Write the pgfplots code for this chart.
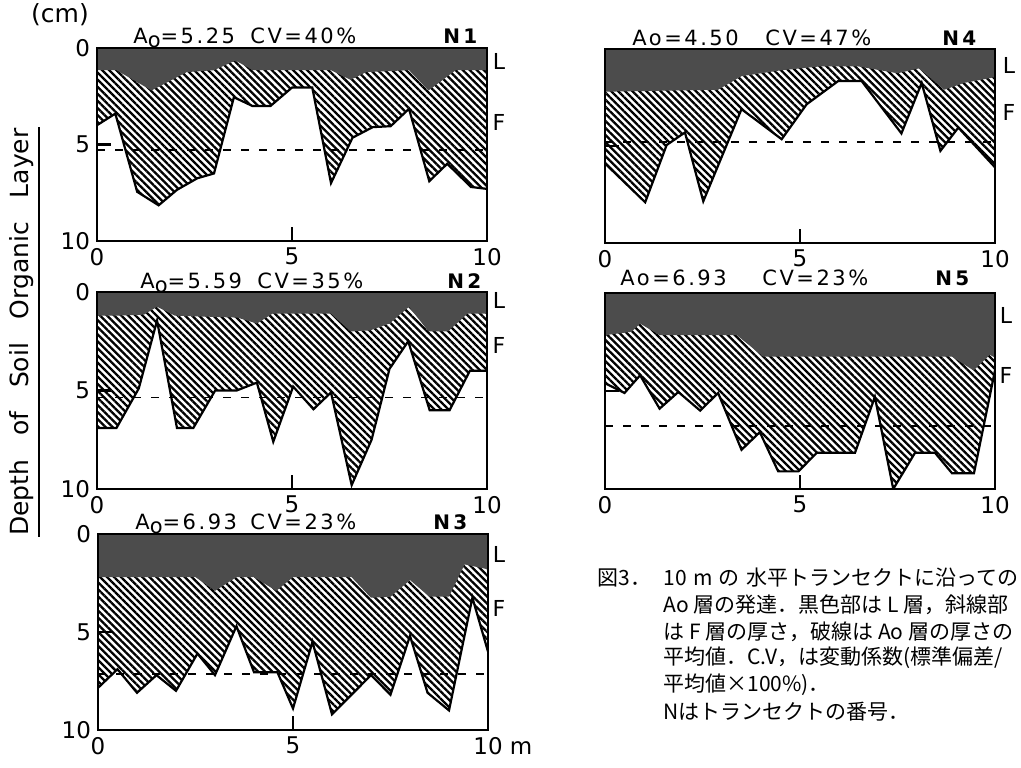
\documentclass[border=0pt]{standalone}
\usepackage{fontspec}
\setmainfont{DejaVu Sans}
\newfontfamily\cjk{Noto Sans CJK JP}
\newfontfamily\ttl[LetterSpace=12]{DejaVu Sans}
\usepackage{pgfplots}
\pgfplotsset{compat=1.18}
\usetikzlibrary{patterns.meta}
\definecolor{Ldark}{gray}{0.30}
\pgfplotsset{
 soil/.style={
  scale only axis, width=195pt, anchor=north west,
  xmin=0,xmax=10,ymin=-10,ymax=0,
  y filter/.expression={-y},
  xtick={0,5,10}, ytick={-10,-5,0}, yticklabels={10,5,0},
  tick pos=left, tick align=inside,
  major tick length=7pt,
  axis line style={line width=1.3pt},
  major tick style={black, line width=1.1pt},
  ticklabel style={font=\fontsize{11.5}{12}\selectfont},
  /pgf/number format/assume math mode=true,
  axis on top,
 },
 hatch/.style={draw=none, pattern={Lines[angle=-45,distance=2.5pt,line width=1.15pt]}},
 dark/.style={draw=none, fill=Ldark},
 fline/.style={black, line width=1.1pt, line join=miter},
 mline/.style={black, line width=0.9pt, dash pattern=on 4pt off 5pt},
}
\begin{document}
\begin{tikzpicture}

% ---------- N1 ----------
\begin{axis}[soil, at={(48.5pt,-24pt)}, height=96.5pt]
\addplot[hatch] coordinates {(0,0) (0,4.0) (0.47,3.4) (1.03,7.45) (1.58,8.15) (2.05,7.35) (2.57,6.75) (3.0,6.5) (3.51,2.55) (3.98,3.0) (4.45,3.0) (5.0,2.05) (5.52,2.05) (6.0,7.0) (6.55,4.65) (7.07,4.1) (7.53,4.05) (8.0,3.15) (8.52,6.9) (8.98,6.0) (9.59,7.2) (10,7.3) (10,0)} -- cycle;
\addplot[dark] coordinates {(0,0) (0,1.15) (0.5,1.15) (1.4,2.2) (2.3,1.25) (3.0,1.15) (3.55,0.65) (4.0,1.15) (6.0,1.15) (6.5,1.65) (6.9,1.25) (8.0,1.15) (8.5,2.2) (9.2,1.15) (10,1.15) (10,0)} -- cycle;
\addplot[fline] coordinates {(0,4.0) (0.47,3.4) (1.03,7.45) (1.58,8.15) (2.05,7.35) (2.57,6.75) (3.0,6.5) (3.51,2.55) (3.98,3.0) (4.45,3.0) (5.0,2.05) (5.52,2.05) (6.0,7.0) (6.55,4.65) (7.07,4.1) (7.53,4.05) (8.0,3.15) (8.52,6.9) (8.98,6.0) (9.59,7.2) (10,7.3)};
\addplot[mline] coordinates {(0,5.3) (10,5.3)};
\end{axis}

% ---------- N2 ----------
\begin{axis}[soil, at={(48.5pt,-146pt)}, height=98.5pt]
\addplot[hatch] coordinates {(0,0) (0,6.9) (0.5,6.9) (1.07,4.9) (1.54,1.45) (2.05,6.9) (2.47,6.9) (3.03,5.0) (3.58,5.0) (4.1,4.6) (4.52,7.6) (5.03,4.8) (5.55,5.95) (6.0,5.1) (6.53,9.8) (7.04,7.5) (7.5,3.9) (7.98,2.5) (8.53,6.0) (9.04,6.0) (9.56,4.0) (10,4.0) (10,0)} -- cycle;
\addplot[dark] coordinates {(0,0) (0,1.2) (0.5,1.2) (1.2,1.15) (1.54,0.75) (2.0,1.2) (3.6,1.3) (4.1,1.6) (4.5,1.1) (6.0,1.1) (6.5,2.0) (7.0,1.95) (7.5,1.6) (8.0,0.75) (8.5,2.0) (9.0,2.0) (9.5,1.1) (10,1.1) (10,0)} -- cycle;
\addplot[fline] coordinates {(0,6.9) (0.5,6.9) (1.07,4.9) (1.54,1.45) (2.05,6.9) (2.47,6.9) (3.03,5.0) (3.58,5.0) (4.1,4.6) (4.52,7.6) (5.03,4.8) (5.55,5.95) (6.0,5.1) (6.53,9.8) (7.04,7.5) (7.5,3.9) (7.98,2.5) (8.53,6.0) (9.04,6.0) (9.56,4.0) (10,4.0)};
\addplot[mline] coordinates {(0,5.35) (10,5.35)};
\end{axis}

% ---------- N3 ----------
\begin{axis}[soil, at={(49pt,-267pt)}, height=98pt, xticklabels={0,5,10\rlap{\ m}}]
\addplot[hatch] coordinates {(0,0) (0,7.85) (0.5,6.9) (1.0,8.1) (1.5,7.2) (2.0,8.0) (2.55,6.1) (3.0,7.2) (3.55,4.7) (4.0,7.05) (4.6,7.05) (5.0,8.9) (5.5,5.5) (6.0,9.2) (6.6,8.0) (7.0,7.2) (7.5,8.2) (8.0,5.2) (8.45,8.1) (9.0,9.0) (9.6,3.25) (10,6.0) (10,0)} -- cycle;
\addplot[dark] coordinates {(0,0) (0,2.2) (2.5,2.2) (3.0,2.9) (3.55,2.2) (4.0,2.2) (4.57,2.9) (5.0,2.2) (6.5,2.2) (7.0,3.25) (7.5,3.2) (8.0,2.35) (8.5,3.2) (9.0,3.2) (9.4,1.55) (10,1.8) (10,0)} -- cycle;
\addplot[fline] coordinates {(0,7.85) (0.5,6.9) (1.0,8.1) (1.5,7.2) (2.0,8.0) (2.55,6.1) (3.0,7.2) (3.55,4.7) (4.0,7.05) (4.6,7.05) (5.0,8.9) (5.5,5.5) (6.0,9.2) (6.6,8.0) (7.0,7.2) (7.5,8.2) (8.0,5.2) (8.45,8.1) (9.0,9.0) (9.6,3.25) (10,6.0)};
\addplot[mline] coordinates {(0,7.15) (10,7.15)};
\end{axis}

% ---------- N4 ----------
\begin{axis}[soil, at={(302.5pt,-24.5pt)}, height=97pt, yticklabels={}]
\addplot[hatch] coordinates {(0,0) (0,5.9) (1.03,7.9) (1.58,4.95) (2.05,4.3) (2.52,7.85) (3.5,3.1) (4.53,4.65) (5.17,2.85) (5.98,1.65) (6.58,1.65) (7.6,4.35) (8.12,1.75) (8.6,5.25) (9.06,4.05) (10,6.1) (10,0)} -- cycle;
\addplot[dark] coordinates {(0,0) (0,2.2) (2.9,2.1) (3.5,1.4) (4.5,1.1) (5.5,0.9) (6.5,0.9) (7.5,1.25) (8.05,1.0) (8.7,2.1) (9.2,1.75) (10,1.45) (10,0)} -- cycle;
\addplot[fline] coordinates {(0,5.9) (1.03,7.9) (1.58,4.95) (2.05,4.3) (2.52,7.85) (3.5,3.1) (4.53,4.65) (5.17,2.85) (5.98,1.65) (6.58,1.65) (7.6,4.35) (8.12,1.75) (8.6,5.25) (9.06,4.05) (10,6.1)};
\addplot[mline] coordinates {(0,4.8) (10,4.8)};
\end{axis}

% ---------- N5 ----------
\begin{axis}[soil, at={(302.5pt,-146.5pt)}, height=98pt, yticklabels={}]
\addplot[hatch] coordinates {(0,0) (0,4.6) (0.5,5.1) (0.9,4.2) (1.4,5.9) (1.88,5.05) (2.44,6.0) (2.9,5.1) (3.5,8.0) (3.97,7.1) (4.44,9.1) (4.96,9.1) (5.43,8.15) (6.41,8.15) (6.92,5.3) (7.39,10.0) (7.95,8.15) (8.46,8.15) (8.9,9.2) (9.46,9.2) (10,3.95) (10,0)} -- cycle;
\addplot[dark] coordinates {(0,0) (0,2.15) (0.68,1.98) (0.9,1.56) (1.4,2.15) (3.38,2.15) (4.06,3.25) (8.9,3.25) (9.45,3.95) (9.87,3.15) (10,3.3) (10,0)} -- cycle;
\addplot[fline] coordinates {(0,4.6) (0.5,5.1) (0.9,4.2) (1.4,5.9) (1.88,5.05) (2.44,6.0) (2.9,5.1) (3.5,8.0) (3.97,7.1) (4.44,9.1) (4.96,9.1) (5.43,8.15) (6.41,8.15) (6.92,5.3) (7.39,10.0) (7.95,8.15) (8.46,8.15) (8.9,9.2) (9.46,9.2) (10,3.95)};
\addplot[mline] coordinates {(0,6.8) (10,6.8)};
\end{axis}

% ---------- texts ----------
\tikzset{tt/.style={inner sep=0, anchor=base west, font=\ttl\fontsize{10.5}{12}\selectfont},
         nn/.style={inner sep=0, anchor=base west, font=\bfseries\fontsize{10}{11}\selectfont},
         lf/.style={inner sep=0, font=\fontsize{11}{12}\selectfont},
         jp/.style={inner sep=0, anchor=west, font=\cjk\fontsize{10.5}{12}\selectfont}}
\node at (30pt,-7.5pt) [inner sep=0, font=\fontsize{12.5}{14}\selectfont] {(cm)};
\node[rotate=90, inner sep=0, font=\fontsize{12.5}{14}\selectfont] at (11pt,-166pt) {Depth\hspace{0.95em}of\hspace{0.95em}Soil\hspace{0.95em}Organic\hspace{0.95em}Layer};
\draw[line width=0.7pt] (19.5pt,-63.5pt) -- (19.5pt,-268.5pt);

\node[tt] at (66.5pt,-21.5pt) {A\raisebox{-0.35ex}{o}=5.25};
\node[tt] at (125pt,-21.5pt) {CV=40\%};
\node[nn] at (221.5pt,-21.5pt) {N\,1};
\node[tt] at (70pt,-144pt) {A\raisebox{-0.35ex}{o}=5.59};
\node[tt] at (128.5pt,-144pt) {CV=35\%};
\node[nn] at (223.5pt,-144pt) {N\,2};
\node[tt] at (67.5pt,-264.5pt) {A\raisebox{-0.35ex}{o}=6.93};
\node[tt] at (125pt,-264.5pt) {CV=23\%};
\node[nn] at (216.5pt,-264.5pt) {N\,3};
\node[tt] at (316pt,-22.5pt) {Ao=4.50};
\node[tt] at (382.5pt,-22.5pt) {CV=47\%};
\node[nn] at (471pt,-22.5pt) {N\,4};
\node[tt] at (310pt,-142.5pt) {Ao=6.93};
\node[tt] at (381pt,-142.5pt) {CV=23\%};
\node[nn] at (467.5pt,-142.5pt) {N\,5};

\node[lf] at (249.5pt,-30.5pt) {L};
\node[lf] at (249.5pt,-61pt) {F};
\node[lf] at (249.5pt,-150pt) {L};
\node[lf] at (249.5pt,-172.5pt) {F};
\node[lf] at (249.5pt,-277pt) {L};
\node[lf] at (249.5pt,-304pt) {F};
\node[lf] at (504.5pt,-32.5pt) {L};
\node[lf] at (504.5pt,-56pt) {F};
\node[lf] at (503pt,-157.5pt) {L};
\node[lf] at (503pt,-187.5pt) {F};

\node[jp] at (298.5pt,-289pt) {図3．};
\node[jp] at (331.5pt,-289pt) {10\hspace{0.3em}m\hspace{0.3em}の\hspace{0.3em}水平トランセクトに沿っての};
\node[jp] at (331.5pt,-302.5pt) {Ao 層の発達．黒色部は L 層，斜線部};
\node[jp] at (331.5pt,-316pt) {は F 層の厚さ，破線は Ao 層の厚さの};
\node[jp] at (331.5pt,-329pt) {平均値．C.V，は変動係数(標準偏差/};
\node[jp] at (331.5pt,-342.5pt) {平均値×100\%)．};
\node[jp] at (331.5pt,-356pt) {Nはトランセクトの番号．};
\path[use as bounding box] (0,0) rectangle (510.5pt,-383.5pt);
\end{tikzpicture}
\end{document}
